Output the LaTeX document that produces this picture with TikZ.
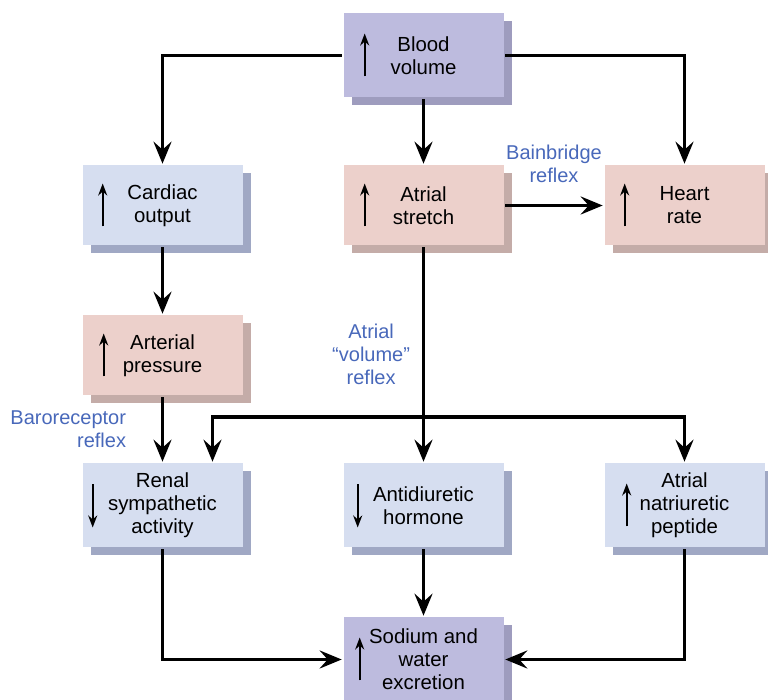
\documentclass[tikz,border=0pt]{standalone}
\usepackage{fontspec}
\setmainfont{Liberation Sans}
\usetikzlibrary{arrows.meta,positioning,shadows}

\definecolor{bluefill}{RGB}{214,222,240}
\definecolor{blueshade}{RGB}{160,168,196}
\definecolor{pinkfill}{RGB}{236,208,203}
\definecolor{pinkshade}{RGB}{196,172,168}
\definecolor{purplefill}{RGB}{189,187,222}
\definecolor{purpleshade}{RGB}{158,156,190}
\definecolor{reflexblue}{RGB}{72,104,186}

% small up / down arrow drawn inside a box
\newcommand{\uparr}[2]{\draw[glyph] ([shift={(#2,21)}]#1.west) -- ++(0,-43);}
\newcommand{\downarr}[2]{\draw[glyph] ([shift={(#2,-21)}]#1.west) -- ++(0,43);}

\begin{document}
\begin{tikzpicture}[x=0.5pt,y=-0.5pt,->,>={Stealth[length=11pt,width=9pt,inset=4pt]},line width=1.8pt,
	on grid,node distance=75pt and 130.5pt,
	box/.style={rectangle,align=center,minimum width=80pt,minimum height=40pt,
		font=\fontsize{10.2pt}{11.5pt}\selectfont},
	tall/.style={minimum height=42pt},
	bluebox/.style={box,fill=bluefill,drop shadow={shadow xshift=4pt,shadow yshift=-4pt,fill=blueshade,opacity=1}},
	pinkbox/.style={box,fill=pinkfill,drop shadow={shadow xshift=4pt,shadow yshift=-4pt,fill=pinkshade,opacity=1}},
	purplebox/.style={box,fill=purplefill,drop shadow={shadow xshift=4pt,shadow yshift=-4pt,fill=purpleshade,opacity=1}},
	reflex/.style={align=center,text=reflexblue,font=\fontsize{10pt}{11.5pt}\selectfont},
	glyph/.style={-{Stealth[length=6pt,width=4.5pt]},line width=1pt}]

\useasboundingbox (0,0) rectangle (768,700);

\node[purplebox,tall]	(bv) at (423.5,55.5)	{Blood\\volume};
\node[pinkbox]		(as) [below=of bv]	{Atrial\\stretch};
\node[bluebox]		(co) [left=of as]	{Cardiac\\output};
\node[pinkbox]		(hr) [right=of as]	{Heart\\rate};
\node[pinkbox]		(ap) [below=of co]	{Arterial\\pressure};
\node[bluebox,tall]	(rs) [below=of ap]	{Renal\\sympathetic\\activity};
\node[bluebox,tall]	(adh) [right=of rs]	{Antidiuretic\\hormone};
\node[bluebox,tall]	(anp) [right=of adh]	{Atrial\\natriuretic\\peptide};
\node[purplebox,tall]	(sw) [below=of adh,yshift=-2pt]	{Sodium and\\water\\excretion};

\uparr{bv}{23}
\uparr{as}{23}
\uparr{co}{22}
\uparr{hr}{22}
\uparr{ap}{23}
\downarr{rs}{12}
\downarr{adh}{16}
\uparr{anp}{24}
\uparr{sw}{18}

\draw (bv.west) -| (co.north);
\draw (bv.east) -| (hr.north);
\draw (bv) -- (as);
\draw (as) -- node[reflex,midway,above=7pt] {Bainbridge\\reflex} (hr);
\draw (co) -- (ap);
\draw (ap) -- node[reflex,midway,left=14pt,align=right] {Baroreceptor\\reflex} (rs);
\draw (as) -- node[reflex,midway,left=2.5pt] {Atrial\\“volume”\\reflex} (adh);
\coordinate (split) at (as.south |- 0,417);
\draw (split) -| ([xshift=25pt]rs.north);
\draw (split) -| (anp.north);
\draw (rs.south) |- (sw.west);
\draw (anp.south) |- (sw.east);
\draw (adh) -- (sw);
\end{tikzpicture}
\end{document}
